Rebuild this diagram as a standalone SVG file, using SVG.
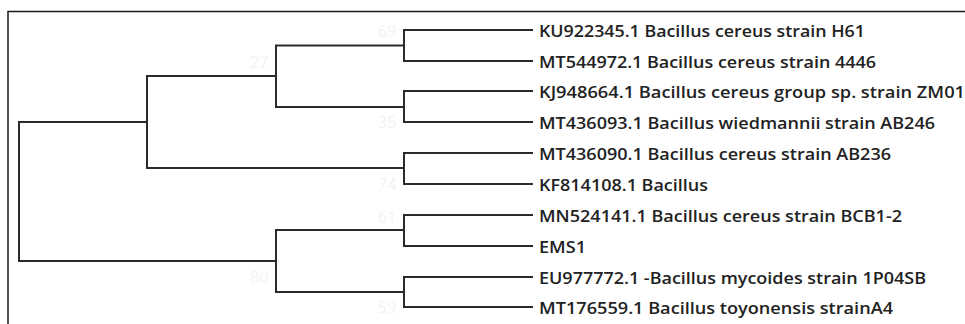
<svg xmlns="http://www.w3.org/2000/svg" width="965" height="324" viewBox="0 0 965 324">
<style>
.br{fill:none;stroke:#2b2b2b;stroke-width:2;stroke-linecap:square}
.lb{font-family:"Open Sans","DejaVu Sans",sans-serif;font-size:16px;font-weight:600;fill:#222}
.bs{font-family:"Open Sans","DejaVu Sans",sans-serif;font-size:16px;fill:#f3f3f3}
.fr{fill:none;stroke:#1a1a1a;stroke-width:1.5}
</style>
<rect width="965" height="324" fill="#fff"/>
<path class="fr" d="M8 324V11.5H965"/>
<g id="connectors">
<path class="br" d="M404 30H532M404 30V61H532"/>
<path class="br" d="M404 91H532M404 91V122H532"/>
<path class="br" d="M404 153H532M404 153V184H532"/>
<path class="br" d="M404 215H532M404 215V246H532"/>
<path class="br" d="M404 277H532M404 277V307H532"/>
<path class="br" d="M276 45.5H404M276 45.5V107H404"/>
<path class="br" d="M276 230H404M276 230V292H404"/>
<path class="br" d="M147 76H276M147 76V168H404"/>
<path class="br" d="M19 122H147M19 122V261H276"/>
</g>
<g id="bootstrap">
<text class="bs" x="378" y="37">69</text>
<text class="bs" x="250" y="68">27</text>
<text class="bs" x="378" y="128">35</text>
<text class="bs" x="378" y="190">74</text>
<text class="bs" x="378" y="223">61</text>
<text class="bs" x="250" y="283">80</text>
<text class="bs" x="378" y="313">59</text>
</g>
<g id="leaf1"><text class="lb" x="539" y="37" textLength="326" lengthAdjust="spacingAndGlyphs">KU922345.1 Bacillus cereus strain H61</text></g>
<g id="leaf2"><text class="lb" x="539" y="68" textLength="337" lengthAdjust="spacingAndGlyphs">MT544972.1 Bacillus cereus strain 4446</text></g>
<g id="leaf3"><text class="lb" x="539" y="98" textLength="426" lengthAdjust="spacingAndGlyphs">KJ948664.1 Bacillus cereus group sp. strain ZM01</text></g>
<g id="leaf4"><text class="lb" x="539" y="129" textLength="396" lengthAdjust="spacingAndGlyphs">MT436093.1 Bacillus wiedmannii strain AB246</text></g>
<g id="leaf5"><text class="lb" x="539" y="160" textLength="352" lengthAdjust="spacingAndGlyphs">MT436090.1 Bacillus cereus strain AB236</text></g>
<g id="leaf6"><text class="lb" x="539" y="191" textLength="169" lengthAdjust="spacingAndGlyphs">KF814108.1 Bacillus</text></g>
<g id="leaf7"><text class="lb" x="539" y="222" textLength="363" lengthAdjust="spacingAndGlyphs">MN524141.1 Bacillus cereus strain BCB1-2</text></g>
<g id="leaf8"><text class="lb" x="539" y="253" textLength="47" lengthAdjust="spacingAndGlyphs">EMS1</text></g>
<g id="leaf9"><text class="lb" x="539" y="284" textLength="387" lengthAdjust="spacingAndGlyphs">EU977772.1 -Bacillus mycoides strain 1P04SB</text></g>
<g id="leaf10"><text class="lb" x="539" y="314" textLength="354" lengthAdjust="spacingAndGlyphs">MT176559.1 Bacillus toyonensis strainA4</text></g>
</svg>
